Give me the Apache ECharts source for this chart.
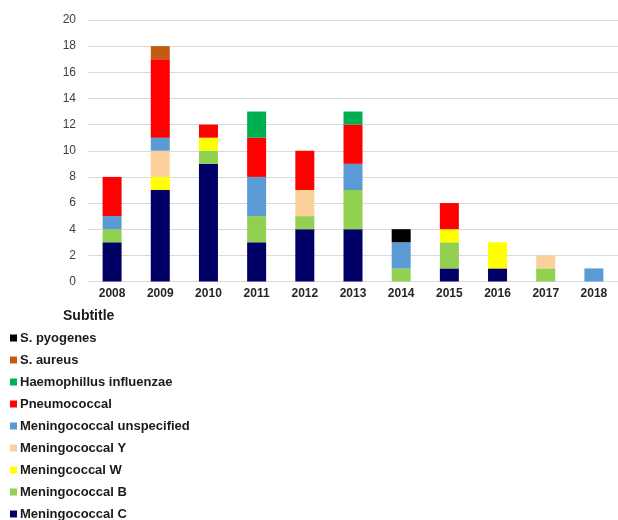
<!DOCTYPE html>
<html>
<head>
<meta charset="utf-8">
<script src="https://cdn.jsdelivr.net/npm/echarts@6/dist/echarts.min.js"></script>
<style>html,body{margin:0;padding:0;background:#fff}#c{width:618px;height:520px}</style>
</head>
<body>
<div id="c"></div>
<script>
const years = ['2008','2009','2010','2011','2012','2013','2014','2015','2016','2017','2018'];
const menC   = [3,7,9,3,4,4,0,1,1,0,0];
const menB   = [1,0,1,2,1,3,1,2,0,1,0];
const menW   = [0,1,1,0,0,0,0,1,2,0,0];
const menY   = [0,2,0,0,2,0,0,0,0,1,0];
const menU   = [1,1,0,3,0,2,2,0,0,0,1];
const pneumo = [3,6,1,3,3,3,0,2,0,0,0];
const haemo  = [0,0,0,2,0,1,0,0,0,0,0];
const sAureus= [0,1,0,0,0,0,0,0,0,0,0];
const sPyo   = [0,0,0,0,0,0,1,0,0,0,0];
const yTicks = [0,2,4,6,8,10,12,14,16,18,20];

const seriesDefs = [
  ['Meningococcal C', menC, '#000066'],
  ['Meningococcal B', menB, '#92d050'],
  ['Meningcoccal W', menW, '#ffff00'],
  ['Meningococcal Y', menY, '#fcd09a'],
  ['Meningococcal unspecified', menU, '#5b9bd5'],
  ['Pneumococcal', pneumo, '#ff0000'],
  ['Haemophillus influenzae', haemo, '#00b050'],
  ['S. aureus', sAureus, '#c55a11'],
  ['S. pyogenes', sPyo, '#000000']
];

const chart = echarts.init(document.getElementById('c'));
chart.setOption({
  animation: false,
  title: {
    text: 'Subtitle', left: 58, top: 304,
    textStyle: {fontFamily: 'Liberation Sans', fontSize: 14, fontWeight: 'bold', color: '#1a1a1a'}
  },
  legend: {
    orient: 'vertical', left: 5, top: 326, height: 220,
    data: seriesDefs.map(d => d[0]).reverse(),
    icon: 'rect', itemWidth: 7, itemHeight: 7, itemGap: 8,
    textStyle: {fontFamily: 'Liberation Sans', fontSize: 13, fontWeight: 'bold', color: '#1a1a1a', lineHeight: 14, padding: [0,0,0,-2]}
  },
  grid: {left: 88, right: 0, top: 20, bottom: 238.5, containLabel: false},
  xAxis: {
    type: 'category', data: years,
    axisLine: {show: true, lineStyle: {color: '#d9d9d9'}},
    axisTick: {show: false},
    axisLabel: {fontFamily: 'Liberation Sans', fontSize: 12, fontWeight: 'bold', color: '#262626', margin: 6}
  },
  yAxis: {
    type: 'value', min: yTicks[0], max: yTicks[yTicks.length-1], interval: 2,
    axisLine: {show: false}, axisTick: {show: false},
    axisLabel: {fontFamily: 'Liberation Sans', fontSize: 12, color: '#404040', margin: 12},
    splitLine: {lineStyle: {color: '#d9d9d9'}}
  },
  series: seriesDefs.map(d => ({
    name: d[0], type: 'bar', stack: 'all', data: d[1],
    barWidth: 19,
    itemStyle: {color: d[2]}
  }))
});
</script>
</body>
</html>
